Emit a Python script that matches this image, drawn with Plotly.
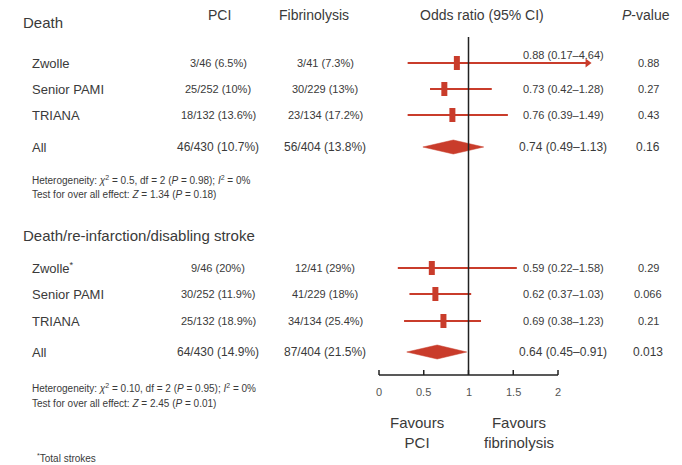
import plotly.graph_objects as go

# ---------------- data ----------------
group_titles = ["Death", "Death/re-infarction/disabling stroke"]
col_headers = ["PCI", "Fibrinolysis", "Odds ratio (95% CI)", "<i>P</i>-value"]

death_studies = ["Zwolle", "Senior PAMI", "TRIANA", "All"]
death_pci = ["3/46 (6.5%)", "25/252 (10%)", "18/132 (13.6%)", "46/430 (10.7%)"]
death_fib = ["3/41 (7.3%)", "30/229 (13%)", "23/134 (17.2%)", "56/404 (13.8%)"]
death_ci_text = ["0.88 (0.17–4.64)", "0.73 (0.42–1.28)", "0.76 (0.39–1.49)", "0.74 (0.49–1.13)"]
death_p = ["0.88", "0.27", "0.43", "0.16"]
# positions as drawn in the picture
death_or = [0.87, 0.73, 0.82, 0.83]
death_lo = [0.32, 0.57, 0.32, 0.49]
death_hi = [2.33, 1.26, 1.44, 1.17]
death_het = ["Heterogeneity: <i>χ</i><sup>2</sup> = 0.5, df = 2 (<i>P</i> = 0.98); <i>I</i><sup>2</sup> = 0%",
             "Test for over all effect: <i>Z</i> = 1.34 (<i>P</i> = 0.18)"]

stroke_studies = ["Zwolle<sup>*</sup>", "Senior PAMI", "TRIANA", "All"]
stroke_pci = ["9/46 (20%)", "30/252 (11.9%)", "25/132 (18.9%)", "64/430 (14.9%)"]
stroke_fib = ["12/41 (29%)", "41/229 (18%)", "34/134 (25.4%)", "87/404 (21.5%)"]
stroke_ci_text = ["0.59 (0.22–1.58)", "0.62 (0.37–1.03)", "0.69 (0.38–1.23)", "0.64 (0.45–0.91)"]
stroke_p = ["0.29", "0.066", "0.21", "0.013"]
stroke_or = [0.59, 0.63, 0.72, 0.65]
stroke_lo = [0.21, 0.34, 0.28, 0.31]
stroke_hi = [1.54, 1.03, 1.14, 0.98]
stroke_het = ["Heterogeneity: <i>χ</i><sup>2</sup> = 0.10, df = 2 (<i>P</i> = 0.95); <i>I</i><sup>2</sup> = 0%",
              "Test for over all effect: <i>Z</i> = 2.45 (<i>P</i> = 0.01)"]

x_ticks = [0, 0.5, 1, 1.5, 2]
x_tick_labels = ["0", "0.5", "1", "1.5", "2"]
null_value = 1
favour_labels = ["Favours<br>PCI", "Favours<br>fibrinolysis"]
footnote = "<sup>*</sup>Total strokes"

# ---------------- layout constants (pixels) ----------------
W, H = 682, 465
X0_PX, PX_PER_UNIT = 379, 89.5
AXIS_Y = 375
TICK_LEN = 5
TICKLABEL_Y = 392
RED = "#c93c2b"
TXT = "#3a3a3a"
AXIS_COLOR = "#222222"
FONT = "Liberation Sans, Arial, Helvetica, sans-serif"

groups = [
    dict(title=group_titles[0], title_y=22, rows=[63, 89, 115, 147], het_y=[180, 194],
         studies=death_studies, pci=death_pci, fib=death_fib, ci=death_ci_text, p=death_p,
         est=death_or, lo=death_lo, hi=death_hi, het=death_het),
    dict(title=group_titles[1], title_y=235, rows=[268, 294, 321, 352], het_y=[388, 403],
         studies=stroke_studies, pci=stroke_pci, fib=stroke_fib, ci=stroke_ci_text, p=stroke_p,
         est=stroke_or, lo=stroke_lo, hi=stroke_hi, het=stroke_het),
]

fig = go.Figure()
ann = []


def text(x_px, y_px, s, size, anchor="left", color=TXT):
    ann.append(dict(x=x_px / W, xref="paper", y=y_px, yref="y", text=s, showarrow=False,
                    xanchor=anchor, yanchor="middle", font=dict(size=size, color=color, family=FONT)))


# column headers
text(219, 15, col_headers[0], 14, "center")
text(314, 15, col_headers[1], 14, "center")
text(482, 15, col_headers[2], 14, "center")
text(646, 15, col_headers[3], 14, "center")

x_max_tick = max(x_ticks)
for g in groups:
    text(21, g["title_y"], g["title"], 15)
    n = len(g["studies"])
    for i in range(n):
        y = g["rows"][i]
        is_total = i == n - 1
        fs = 12 if is_total else 11
        text(30, y, g["studies"][i], 13)
        text(218, y, g["pci"][i], fs, "center")
        text(325, y, g["fib"][i], fs, "center")
        arrow = g["hi"][i] > x_max_tick
        text(563, y - (8 if arrow else 0), g["ci"][i], fs, "center")
        text(648, y, g["p"][i], fs, "center")
        lo, est, hi = g["lo"][i], g["est"][i], g["hi"][i]
        if is_total:
            fig.add_trace(go.Scatter(x=[lo, est, hi, est, lo], y=[y, y - 7, y, y + 7, y],
                                     mode="lines", fill="toself", fillcolor=RED,
                                     line=dict(color=RED, width=0.5), hoverinfo="skip"))
        else:
            fig.add_trace(go.Scatter(x=[lo, hi], y=[y, y], mode="lines",
                                     line=dict(color=RED, width=2), hoverinfo="skip"))
            fig.add_trace(go.Scatter(x=[est], y=[y], mode="markers",
                                     marker=dict(symbol="line-ns", size=10,
                                                 line=dict(color=RED, width=6)),
                                     hoverinfo="skip"))
            if arrow:
                fig.add_trace(go.Scatter(x=[hi], y=[y], mode="markers",
                                         marker=dict(symbol="triangle-right", size=8, color=RED),
                                         hoverinfo="skip"))
    for k, s in enumerate(g["het"]):
        text(30, g["het_y"][k], s, 10)

# favours labels
text(417, 432, favour_labels[0], 15, "center")
text(519, 432, favour_labels[1], 15, "center")
text(35, 458, footnote, 10)

# x axis (line + upward ticks) on the data scale
ax_x = [x_ticks[0], x_ticks[-1], None]
ax_y = [AXIS_Y, AXIS_Y, None]
for t in x_ticks:
    ax_x += [t, t, None]
    ax_y += [AXIS_Y, AXIS_Y - TICK_LEN, None]
fig.add_trace(go.Scatter(x=ax_x, y=ax_y, mode="lines", line=dict(color=AXIS_COLOR, width=1.5),
                         hoverinfo="skip"))
for t, lab in zip(x_ticks, x_tick_labels):
    ann.append(dict(x=t, xref="x", y=TICKLABEL_Y, yref="y", text=lab, showarrow=False,
                    xanchor="center", yanchor="middle",
                    font=dict(size=11, color="#555555", family=FONT)))

# null line
fig.add_shape(type="line", x0=null_value, x1=null_value, y0=37, y1=AXIS_Y, xref="x", yref="y",
              line=dict(color=AXIS_COLOR, width=1.5))

x_left = -X0_PX / PX_PER_UNIT
x_right = (W - X0_PX) / PX_PER_UNIT
fig.update_layout(
    width=W, height=H, margin=dict(l=0, r=0, t=0, b=0),
    paper_bgcolor="white", plot_bgcolor="rgba(0,0,0,0)",
    showlegend=False, font=dict(family=FONT, color=TXT),
    xaxis=dict(range=[x_left, x_right], visible=False, domain=[0, 1]),
    yaxis=dict(range=[H, 0], visible=False, domain=[0, 1]),
    annotations=ann,
)

fig.write_html("out.html")
